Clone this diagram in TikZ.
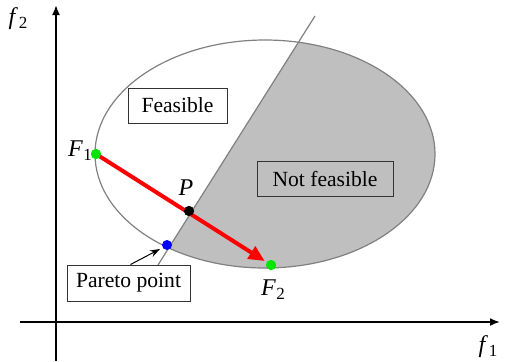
\documentclass[tikz,border=0pt]{standalone}
\usepackage{fontspec}
\setmainfont{Liberation Serif}
\usetikzlibrary{arrows.meta,calc}
\newcommand{\lbl}[2]{\textit{#1}\kern0.3pt\raisebox{-0.35ex}{\fontsize{8.5}{9}\selectfont #2}}
\tikzset{
  box/.style={draw=black!80, line width=0.5pt, inner sep=0pt, font=\rmfamily\fontsize{10.8}{12}\selectfont},
  curve/.style={draw=black!50, line width=0.6pt},
  axis/.style={draw=black, line width=0.9pt, -{Latex[length=5pt,width=4pt]}},
  dot/.style={circle, inner sep=0pt, minimum size=5pt},
  lab/.style={font=\rmfamily\fontsize{12}{13}\selectfont, inner sep=0pt}
}
\begin{document}
\begin{tikzpicture}[x=0.5pt,y=-0.5pt]
\useasboundingbox (0,0) rectangle (509,361);
% shaded part
\begin{scope}
  \clip (265,154) ellipse [x radius=170, y radius=114];
  \fill[black!25] (136,300) -- (325,0) -- (509,0) -- (509,300) -- cycle;
\end{scope}
\draw[curve] (265,154) ellipse [x radius=170, y radius=114];
\coordinate (lb) at (158,265);
\coordinate (lt) at (315,16);
\draw[curve] (lb) -- (lt);
% axes
\coordinate (xo) at (20,322);
\coordinate (xe) at (500,322);
\coordinate (yo) at (56,361);
\coordinate (ye) at (56,5);
\draw[axis] (xo) -- (xe);
\draw[axis] (yo) -- (ye);
\node[lab] (f2) at (18,19) {\lbl{f}{2}};
\node[lab] (f1) at (488,347) {\lbl{f}{1}};
% boxes
\node[box, minimum width=49.5pt, minimum height=17.5pt] (feas) at (177.5,105.5) {Feasible};
\node[box, fill=black!25, minimum width=68pt, minimum height=17.5pt] (nfeas) at (325,178.5) {Not feasible};
\node[box, fill=white, minimum width=61.5pt, minimum height=18pt] (par) at (128.5,283) {Pareto point};
% points
\node[dot, fill=green!90!black] (F1) at (96,154) {};
\node[dot, fill=green!90!black] (F2) at (271,265) {};
\node[dot, fill=black] (P) at (189,211) {};
\node[dot, fill=blue] (B) at (167,245) {};
\draw[red, line width=2pt, -{Triangle[length=8pt,width=7pt]}, shorten >=1pt] (F1.center) -- (F2);
\node[dot, fill=green!90!black] at (F2) {};
\node[dot, fill=black] at (P) {};
\node[dot, fill=green!90!black] at (F1) {};
\coordinate (pa) at ($(par.north)+(2,0)$);
\coordinate (pb) at ($(B)+(-7,4)$);
\draw[black, line width=0.5pt, -{Stealth[length=5pt,width=3.5pt]}] (pa) -- (pb);
\node[lab] (lF1) at (80,151) {\lbl{F}{1}};
\node[lab] (lP) at (186,188) {\textit{P}};
\node[lab] (lF2) at (273,290) {\lbl{F}{2}};
\end{tikzpicture}
\end{document}
